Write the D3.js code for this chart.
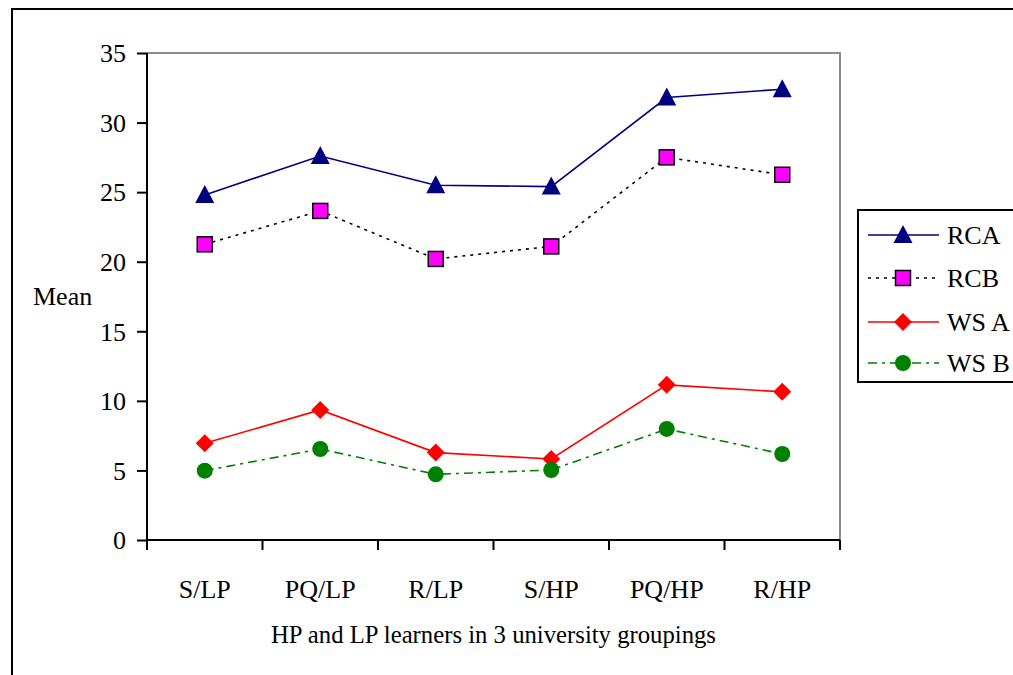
<!DOCTYPE html>
<html><head><meta charset="utf-8">
<script src="https://cdn.jsdelivr.net/npm/d3@7"></script>
<style>html,body{margin:0;padding:0;background:#fff;overflow:hidden}</style>
</head><body>
<script>
const categories = ["S/LP","PQ/LP","R/LP","S/HP","PQ/HP","R/HP"];
const rcaValues = [24.8, 27.6, 25.5, 25.4, 31.8, 32.4];
const rcbValues = [21.25, 23.65, 20.2, 21.1, 27.5, 26.25];
const wsaValues = [6.95, 9.35, 6.28, 5.82, 11.15, 10.65];
const wsbValues = [4.98, 6.54, 4.72, 5.03, 7.98, 6.18];
const yTicks = [0,5,10,15,20,25,30,35];
const seriesNames = ["RCA","RCB","WS A","WS B"];

const W = 1013, H = 675;
const svg = d3.select("body").append("svg").attr("width", W).attr("height", H);
const font = "Liberation Serif, Times New Roman, serif";

// outer frame
svg.append("rect").attr("x",12).attr("y",9).attr("width",1100).attr("height",800)
  .attr("fill","none").attr("stroke","#000").attr("stroke-width",2);

const L=147, R=840, T=53, B=540;
const x = d3.scaleBand().domain(categories).range([L,R]).padding(0);
const y = d3.scaleLinear().domain([0,35]).range([B,T]);
const cx = c => x(c) + x.bandwidth()/2;

// plot area border (gray top/right)
svg.append("path").attr("d",`M${L},${T}H${R}V${B}`).attr("fill","none")
  .attr("stroke","#8c8c8c").attr("stroke-width",2);

// y axis
const ya = svg.append("g").attr("transform",`translate(${L},0)`)
  .call(d3.axisLeft(y).tickValues(yTicks).tickSize(10).tickPadding(11));
ya.select(".domain").attr("stroke","#000").attr("stroke-width",2).attr("d",`M0,${T}V${B}`);
ya.selectAll(".tick line").attr("stroke","#000").attr("stroke-width",2);
ya.selectAll(".tick text").attr("font-family",font).attr("font-size",26).attr("fill","#000").attr("dy","0.34em");

// x axis
const xa = svg.append("g").attr("transform",`translate(0,${B})`)
  .call(d3.axisBottom(x).tickSize(0).tickPadding(40));
xa.select(".domain").attr("stroke","#000").attr("stroke-width",2).attr("d",`M${L},0H${R}`);
xa.selectAll(".tick text").attr("font-family",font).attr("font-size",26).attr("fill","#000");
// boundary ticks
const bounds = categories.map(c=>x(c)).concat([R]);
svg.append("g").selectAll("line").data(bounds).join("line")
  .attr("x1",d=>d).attr("x2",d=>d).attr("y1",B).attr("y2",B+10)
  .attr("stroke","#000").attr("stroke-width",2);

// axis titles
svg.append("text").attr("x",(L+R)/2).attr("y",643).attr("text-anchor","middle")
  .attr("font-family",font).attr("font-size",26)
  .attr("textLength",445).attr("lengthAdjust","spacingAndGlyphs")
  .text("HP and LP learners in 3 university groupings");
svg.append("text").attr("x",33).attr("y",305)
  .attr("font-family",font).attr("font-size",26).text("Mean");

const series = [
  {name:seriesNames[0], values:rcaValues, color:"#000080", dash:null, marker:"triangle", fill:"#000080"},
  {name:seriesNames[1], values:rcbValues, color:"#000", dash:"3,5", marker:"square", fill:"#ff00ff"},
  {name:seriesNames[2], values:wsaValues, color:"#ff0000", dash:null, marker:"diamond", fill:"#ff0000"},
  {name:seriesNames[3], values:wsbValues, color:"#008000", dash:"9,5,3,5", marker:"circle", fill:"#008000"}
];

function drawMarker(g, type, px, py, s){
  if(type==="triangle"){
    g.append("path").attr("d",`M${px},${py-10}L${px+9.5},${py+8}L${px-9.5},${py+8}Z`)
      .attr("fill",s.fill);
  } else if(type==="square"){
    g.append("rect").attr("x",px-7.5).attr("y",py-7.5).attr("width",15).attr("height",15)
      .attr("fill",s.fill).attr("stroke","#000").attr("stroke-width",1.5);
  } else if(type==="diamond"){
    g.append("path").attr("d",`M${px},${py-9}L${px+9},${py}L${px},${py+9}L${px-9},${py}Z`)
      .attr("fill",s.fill);
  } else {
    g.append("circle").attr("cx",px).attr("cy",py).attr("r",8).attr("fill",s.fill);
  }
}

const line = d3.line().x((d,i)=>cx(categories[i])).y(d=>y(d));
series.forEach(s=>{
  svg.append("path").datum(s.values).attr("d",line).attr("fill","none")
    .attr("stroke",s.color).attr("stroke-width",1.6)
    .attr("stroke-dasharray",s.dash);
  const g = svg.append("g");
  s.values.forEach((v,i)=>drawMarker(g,s.marker,cx(categories[i]),y(v),s));
});

// legend
const lg = svg.append("g");
lg.append("rect").attr("x",858).attr("y",210).attr("width",200).attr("height",172)
  .attr("fill","#fff").attr("stroke","#000").attr("stroke-width",2);
const rowY = [235,278,322,363];
series.forEach((s,i)=>{
  const yy=rowY[i];
  lg.append("line").attr("x1",868).attr("x2",939).attr("y1",yy).attr("y2",yy)
    .attr("stroke",s.color).attr("stroke-width",1.6).attr("stroke-dasharray",s.dash);
  drawMarker(lg,s.marker,903,yy,s);
  lg.append("text").attr("x",947).attr("y",yy).attr("dy","0.34em")
    .attr("font-family",font).attr("font-size",26).text(s.name);
});
</script>
</body></html>
